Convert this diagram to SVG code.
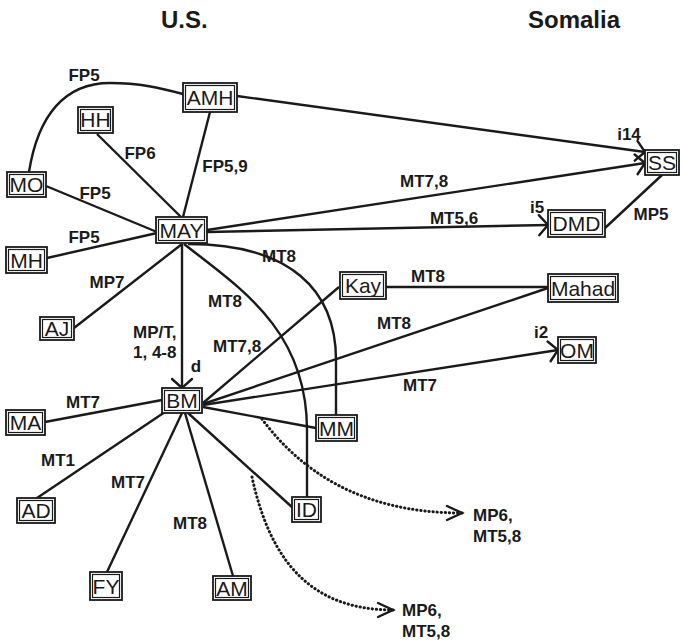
<svg xmlns="http://www.w3.org/2000/svg" width="681" height="642" viewBox="0 0 681 642">
<style>
.bg{fill:#fff}
.title{font-family:"Liberation Sans",Arial,sans-serif;font-weight:bold;font-size:24px;fill:#1a1a1a}
.box{fill:#fff;stroke:#1a1a1a;stroke-width:1.8}
.inner{fill:none;stroke:#1a1a1a;stroke-width:1.2}
.nt{font-family:"Liberation Sans",Arial,sans-serif;font-size:21px;fill:#1a1a1a;text-anchor:middle}
.el{font-family:"Liberation Sans",Arial,sans-serif;font-weight:bold;font-size:17px;fill:#1a1a1a;text-anchor:middle}
.els{font-family:"Liberation Sans",Arial,sans-serif;font-weight:bold;font-size:17px;fill:#1a1a1a}
.ln{fill:none;stroke:#1a1a1a;stroke-width:2.4}
.dot{fill:none;stroke:#1a1a1a;stroke-width:3;stroke-dasharray:0.3 3.8;stroke-linecap:round}
.mk{fill:none;stroke:#1a1a1a;stroke-width:2.4;stroke-dasharray:none;stroke-linecap:round}
</style>
<defs>
<marker id="ah" markerUnits="userSpaceOnUse" viewBox="-16 -16 32 32" markerWidth="32" markerHeight="32" refX="0" refY="0" orient="auto">
<path class="mk" d="M-9,-10 L0,0 L-9,10"/>
</marker>
<marker id="ahd" markerUnits="userSpaceOnUse" viewBox="-20 -20 40 40" markerWidth="40" markerHeight="40" refX="0" refY="0" orient="auto">
<path class="mk" d="M-15,-7 L0,0 L-15,7"/>
</marker>
</defs>
<rect class="bg" x="0" y="0" width="681" height="642"/>
<text class="title" x="161" y="28">U.S.</text>
<text class="title" x="528" y="28">Somalia</text>

<g id="connectors">
<path class="ln" d="M29,172 C38,115 65,83 110,83 C140,83 160,88 183,94"/>
<path class="ln" d="M97,134 L181,217"/>
<path class="ln" d="M210,112 L183,217"/>
<path class="ln" d="M46,186 L157,232"/>
<path class="ln" d="M47,258 L157,233"/>
<path class="ln" d="M237,96 L645,152" marker-end="url(#ah)"/>
<path class="ln" d="M207,230 L645,163" marker-end="url(#ah)"/>
<path class="ln" d="M207,232 L548,225" marker-end="url(#ah)"/>
<path class="ln" d="M605,228 L662,175"/>
<path class="ln" d="M182,244 L74,328"/>
<path class="ln" d="M182,244 L182,388" marker-end="url(#ah)"/>
<path class="ln" d="M184,244 C240,288 307,330 307,430 L307,497"/>
<path class="ln" d="M188,244 C290,244 336,290 336,360 L336,415"/>
<path class="ln" d="M339,287 L203,403"/>
<path class="ln" d="M386,287 L548,287"/>
<path class="ln" d="M203,404 L548,288"/>
<path class="ln" d="M203,405 L558,350" marker-end="url(#ah)"/>
<path class="ln" d="M203,407 L316,428"/>
<path class="ln" d="M162,400 L45,422"/>
<path class="ln" d="M165,412 L37,498"/>
<path class="ln" d="M182,413 L107,572"/>
<path class="ln" d="M185,413 L233,576"/>
<path class="ln" d="M188,413 L293,508"/>
<path class="dot" d="M262,419 C300,470 360,513 462,513" marker-end="url(#ahd)"/>
<path class="dot" d="M252,477 C270,560 310,610 393,610" marker-end="url(#ahd)"/>

<text class="el" x="84" y="81">FP5</text>
<text class="el" x="140" y="159">FP6</text>
<text class="el" x="225" y="172">FP5,9</text>
<text class="el" x="95" y="199">FP5</text>
<text class="el" x="84" y="243">FP5</text>
<text class="el" x="107" y="288">MP7</text>
<text class="els" x="133" y="338">MP/T,</text>
<text class="els" x="133" y="358">1, 4-8</text>
<text class="el" x="196" y="372">d</text>
<text class="el" x="225" y="307">MT8</text>
<text class="els" x="213" y="352">MT7,8</text>
<text class="el" x="279" y="262">MT8</text>
<text class="el" x="428" y="282">MT8</text>
<text class="el" x="394" y="329">MT8</text>
<text class="el" x="420" y="391">MT7</text>
<text class="el" x="541" y="338">i2</text>
<text class="el" x="83" y="408">MT7</text>
<text class="el" x="58" y="466">MT1</text>
<text class="el" x="128" y="488">MT7</text>
<text class="el" x="190" y="529">MT8</text>
<text class="els" x="473" y="521">MP6,</text>
<text class="els" x="473" y="542">MT5,8</text>
<text class="els" x="402" y="616">MP6,</text>
<text class="els" x="402" y="637">MT5,8</text>
<text class="el" x="629" y="140">i14</text>
<text class="els" x="400" y="187">MT7,8</text>
<text class="el" x="454" y="224">MT5,6</text>
<text class="el" x="537" y="213">i5</text>
<text class="el" x="651" y="220">MP5</text>
</g>

<g id="AMH"><rect class="box" x="183" y="83" width="54" height="29"/><rect class="inner" x="185.5" y="85.5" width="49" height="24"/><text class="nt" x="210" y="105">AMH</text></g>
<g id="HH"><rect class="box" x="78" y="107" width="35" height="26"/><rect class="inner" x="80.5" y="109.5" width="30" height="21"/><text class="nt" x="95.5" y="127">HH</text></g>
<g id="MO"><rect class="box" x="7" y="172" width="39" height="25"/><rect class="inner" x="9.5" y="174.5" width="34" height="20"/><text class="nt" x="26.5" y="192">MO</text></g>
<g id="MAY"><rect class="box" x="156" y="217" width="51" height="26"/><rect class="inner" x="158.5" y="219.5" width="46" height="21"/><text class="nt" x="181.5" y="237.5">MAY</text></g>
<g id="MH"><rect class="box" x="6" y="247" width="41" height="26"/><rect class="inner" x="8.5" y="249.5" width="36" height="21"/><text class="nt" x="26.5" y="267.5">MH</text></g>
<g id="AJ"><rect class="box" x="40" y="317" width="34" height="23"/><rect class="inner" x="42.5" y="319.5" width="29" height="18"/><text class="nt" x="57" y="336">AJ</text></g>
<g id="BM"><rect class="box" x="162" y="388" width="40" height="25"/><rect class="inner" x="164.5" y="390.5" width="35" height="20"/><text class="nt" x="182" y="408">BM</text></g>
<g id="MA"><rect class="box" x="6" y="410" width="39" height="25"/><rect class="inner" x="8.5" y="412.5" width="34" height="20"/><text class="nt" x="25.5" y="430">MA</text></g>
<g id="AD"><rect class="box" x="17" y="498" width="38" height="25"/><rect class="inner" x="19.5" y="500.5" width="33" height="20"/><text class="nt" x="36" y="518">AD</text></g>
<g id="FY"><rect class="box" x="90" y="572" width="32" height="28"/><rect class="inner" x="92.5" y="574.5" width="27" height="23"/><text class="nt" x="106" y="593.5">FY</text></g>
<g id="AM"><rect class="box" x="213" y="576" width="38" height="24"/><rect class="inner" x="215.5" y="578.5" width="33" height="19"/><text class="nt" x="232" y="595.5">AM</text></g>
<g id="ID"><rect class="box" x="292" y="497" width="29" height="25"/><rect class="inner" x="294.5" y="499.5" width="24" height="20"/><text class="nt" x="306.5" y="517">ID</text></g>
<g id="MM"><rect class="box" x="316" y="415" width="41" height="26"/><rect class="inner" x="318.5" y="417.5" width="36" height="21"/><text class="nt" x="336.5" y="435.5">MM</text></g>
<g id="Kay"><rect class="box" x="340" y="272" width="46" height="27"/><rect class="inner" x="342.5" y="274.5" width="41" height="22"/><text class="nt" x="363" y="292.5">Kay</text></g>
<g id="Mahad"><rect class="box" x="548" y="274" width="70" height="28"/><rect class="inner" x="550.5" y="276.5" width="65" height="23"/><text class="nt" x="583" y="295.5">Mahad</text></g>
<g id="OM"><rect class="box" x="558" y="337" width="38" height="26"/><rect class="inner" x="560.5" y="339.5" width="33" height="21"/><text class="nt" x="577" y="357.5">OM</text></g>
<g id="SS"><rect class="box" x="645" y="150" width="34" height="25"/><rect class="inner" x="647.5" y="152.5" width="29" height="20"/><text class="nt" x="662" y="170">SS</text></g>
<g id="DMD"><rect class="box" x="548" y="210" width="57" height="27"/><rect class="inner" x="550.5" y="212.5" width="52" height="22"/><text class="nt" x="576.5" y="231">DMD</text></g>
</svg>
